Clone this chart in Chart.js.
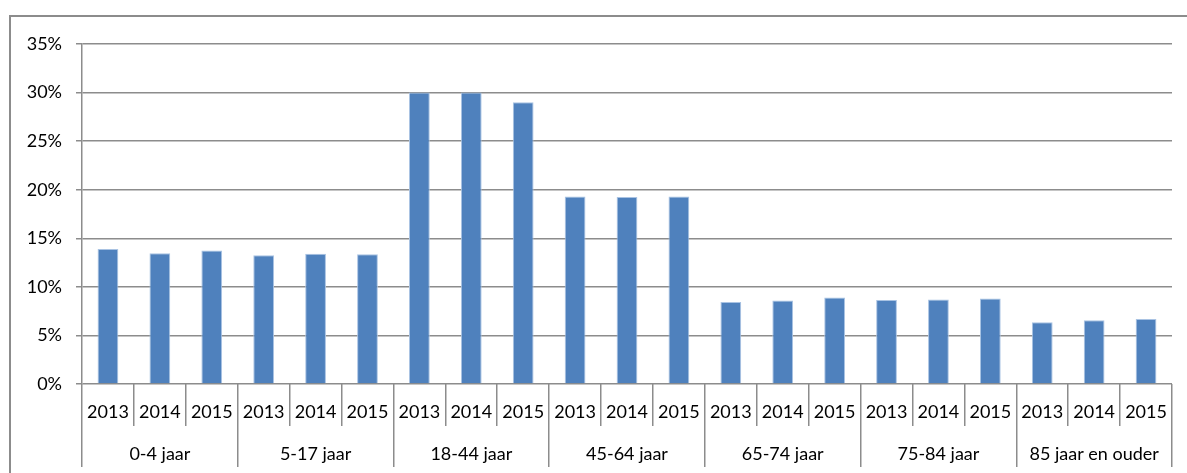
<!DOCTYPE html>
<html>
<head>
<meta charset="utf-8">
<script src="https://cdn.jsdelivr.net/npm/chart.js@4"></script>
<style>
  html, body { margin: 0; padding: 0; background: #fff; overflow: hidden; }
  #frame { position: absolute; left: 9px; top: 15px; width: 1300px; height: 600px; border: 2px solid #8c8c8c; box-sizing: border-box; }
  #wrap { position: absolute; left: 0; top: 0; width: 1187px; height: 473px; }
</style>
</head>
<body>
<div id="frame"></div>
<div id="wrap"><canvas id="chart" width="1187" height="473"></canvas></div>
<script>
// leeftijdsgroepen en jaren
var groups = ['0-4 jaar', '5-17 jaar', '18-44 jaar', '45-64 jaar', '65-74 jaar', '75-84 jaar', '85 jaar en ouder'];
var years = ['2013', '2014', '2015'];

// aandeel per groep (%), per jaar
var share2013 = [13.9, 13.25, 30.0, 19.3, 8.45, 8.65, 6.35];
var share2014 = [13.45, 13.4, 30.0, 19.25, 8.6, 8.7, 6.55];
var share2015 = [13.75, 13.35, 29.0, 19.3, 8.9, 8.8, 6.7];

var yTicks = [0, 5, 10, 15, 20, 25, 30, 35];

var labels = [];
var values = [];
groups.forEach(function(g, i) {
  labels.push(years[0], years[1], years[2]);
  values.push(share2013[i], share2014[i], share2015[i]);
});

var lineColor = '#8c8c8c';
var font = { family: 'Lato', size: 18 };

Chart.defaults.font.family = 'Lato';
Chart.defaults.color = '#000';

new Chart(document.getElementById('chart').getContext('2d'), {
  type: 'bar',
  data: {
    labels: labels,
    datasets: [{
      data: values,
      backgroundColor: '#4F81BD',
      borderColor: '#a9c3e3',
      borderWidth: 1,
      barPercentage: 0.4,
      categoryPercentage: 1.0
    }]
  },
  options: {
    responsive: false,
    animation: false,
    devicePixelRatio: 1,
    layout: { padding: { left: 0, right: 15, top: 44, bottom: 0 } },
    plugins: { legend: { display: false }, tooltip: { enabled: false } },
    scales: {
      x: {
        type: 'category',
        position: 'bottom',
        weight: 0,
        offset: true,
        grid: { display: true, offset: true, drawOnChartArea: false, drawTicks: true, tickLength: 42, color: lineColor, lineWidth: 1.5 },
        border: { display: false },
        ticks: { font: font, color: '#000', padding: -25, maxRotation: 0, autoSkip: false },
        afterFit: function(scale) { scale.height = 42; }
      },
      groups: {
        type: 'category',
        position: 'bottom',
        weight: 1,
        labels: groups,
        offset: true,
        grid: { display: true, offset: true, drawOnChartArea: false, drawTicks: true, tickLength: 41, color: lineColor, lineWidth: 1.5 },
        border: { display: false },
        ticks: { font: font, color: '#000', padding: -24, maxRotation: 0, autoSkip: false },
        afterFit: function(scale) { scale.height = 47; }
      },
      y: {
        min: 0,
        max: 35,
        afterBuildTicks: function(scale) { scale.ticks = yTicks.map(function(v) { return { value: v }; }); },
        grid: { color: lineColor, lineWidth: 1.5, tickLength: 6 },
        border: { display: true, color: lineColor, width: 1.5 },
        ticks: { font: font, color: '#000', padding: 14, callback: function(v) { return v + '%'; } },
        afterFit: function(scale) { scale.width = 82; }
      }
    }
  }
});
</script>
</body>
</html>
